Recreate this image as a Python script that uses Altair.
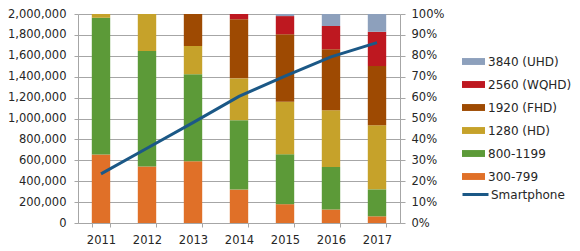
import altair as alt
import pandas as pd

# Years on the x axis
years = ["2011", "2012", "2013", "2014", "2015", "2016", "2017"]

# Resolution classes, bottom of the stack first
classes = ["300-799", "800-1199", "1280 (HD)", "1920 (FHD)", "2560 (WQHD)", "3840 (UHD)"]
class_colors = ["#E07028", "#5C9A38", "#C6A22A", "#9E4A02", "#BE1820", "#8DA0BC"]

# Share of each resolution class per year (fraction of 100%)
share_300_799 = [0.328, 0.270, 0.296, 0.160, 0.090, 0.064, 0.032]
share_800_1199 = [0.654, 0.553, 0.416, 0.332, 0.239, 0.204, 0.129]
share_1280 = [0.018, 0.177, 0.135, 0.200, 0.251, 0.272, 0.307]
share_1920 = [0.000, 0.000, 0.153, 0.283, 0.323, 0.291, 0.283]
share_2560 = [0.000, 0.000, 0.000, 0.025, 0.087, 0.112, 0.164]
share_3840 = [0.000, 0.000, 0.000, 0.000, 0.010, 0.057, 0.085]

# Smartphone shipments (left axis)
smartphone = [470000, 715000, 960000, 1212000, 1405000, 1590000, 1726000]

shares = [share_300_799, share_800_1199, share_1280, share_1920, share_2560, share_3840]
rows = []
for ci, (name, vals) in enumerate(zip(classes, shares)):
    for y, v in zip(years, vals):
        rows.append({"year": y, "cls": name, "order": ci, "share": v})
bars_df = pd.DataFrame(rows)
line_df = pd.DataFrame({"year": years, "units": smartphone, "series": "Smartphone"})

FONT = "DejaVu Sans"
TEXT = "#262626"
GRID = "#A6A6A6"

x_enc = alt.X(
    "year:N",
    sort=years,
    title=None,
    scale=alt.Scale(paddingInner=0.6, paddingOuter=0.3),
    axis=alt.Axis(
        labelAngle=0,
        tickBand="extent",
        domainColor=GRID,
        tickColor=GRID,
        tickSize=4,
        labelPadding=7,
        grid=False,
    ),
)

bars = (
    alt.Chart(bars_df)
    .mark_bar()
    .encode(
        x=x_enc,
        y=alt.Y(
            "share:Q",
            stack="zero",
            title=None,
            scale=alt.Scale(domain=[0, 1], nice=False),
            axis=alt.Axis(
                orient="right",
                format=".0%",
                values=[i / 10 for i in range(11)],
                grid=False,
                domainColor=GRID,
                tickColor=GRID,
                tickSize=5,
                labelPadding=6,
            ),
        ),
        color=alt.Color(
            "cls:N",
            scale=alt.Scale(domain=classes[::-1], range=class_colors[::-1]),
            legend=alt.Legend(
                title=None,
                orient="none",
                legendX=384,
                legendY=36,
                symbolType="M-1,-0.3L1,-0.3L1,0.3L-1,0.3Z",
                symbolSize=529,
                symbolStrokeWidth=0,
                symbolOpacity=1,
                labelOffset=3,
                rowPadding=5,
                padding=0,
            ),
        ),
        order=alt.Order("order:Q", sort="ascending"),
    )
)

line = (
    alt.Chart(line_df)
    .mark_line(strokeWidth=3)
    .encode(
        x=x_enc,
        y=alt.Y(
            "units:Q",
            title=None,
            scale=alt.Scale(domain=[0, 2000000], nice=False),
            axis=alt.Axis(
                orient="left",
                format=",d",
                values=[i * 200000 for i in range(11)],
                grid=True,
                gridColor=GRID,
                domainColor=GRID,
                tickColor=GRID,
                tickSize=4,
                labelPadding=8,
            ),
        ),
        stroke=alt.Stroke(
            "series:N",
            scale=alt.Scale(domain=["Smartphone"], range=["#1B5886"]),
            legend=alt.Legend(
                title=None,
                orient="none",
                legendX=383,
                legendY=166,
                symbolType="stroke",
                symbolSize=676,
                symbolStrokeWidth=3,
                labelOffset=1,
                padding=0,
            ),
        ),
    )
)

chart = (
    alt.layer(bars, line)
    .resolve_scale(y="independent", color="independent", stroke="independent")
    .properties(
        width=322,
        height=209,
        autosize=alt.AutoSizeParams(type="none"),
        padding={"left": 78, "top": 14, "right": 180, "bottom": 28},
    )
    .configure_view(stroke=None)
    .configure_axis(
        labelFont=FONT,
        labelFontSize=11.5,
        labelColor=TEXT,
    )
    .configure_legend(
        labelFont=FONT,
        labelFontSize=12,
        labelColor=TEXT,
    )
)

chart.save("out.html", embed_options={"renderer": "svg", "actions": False})
